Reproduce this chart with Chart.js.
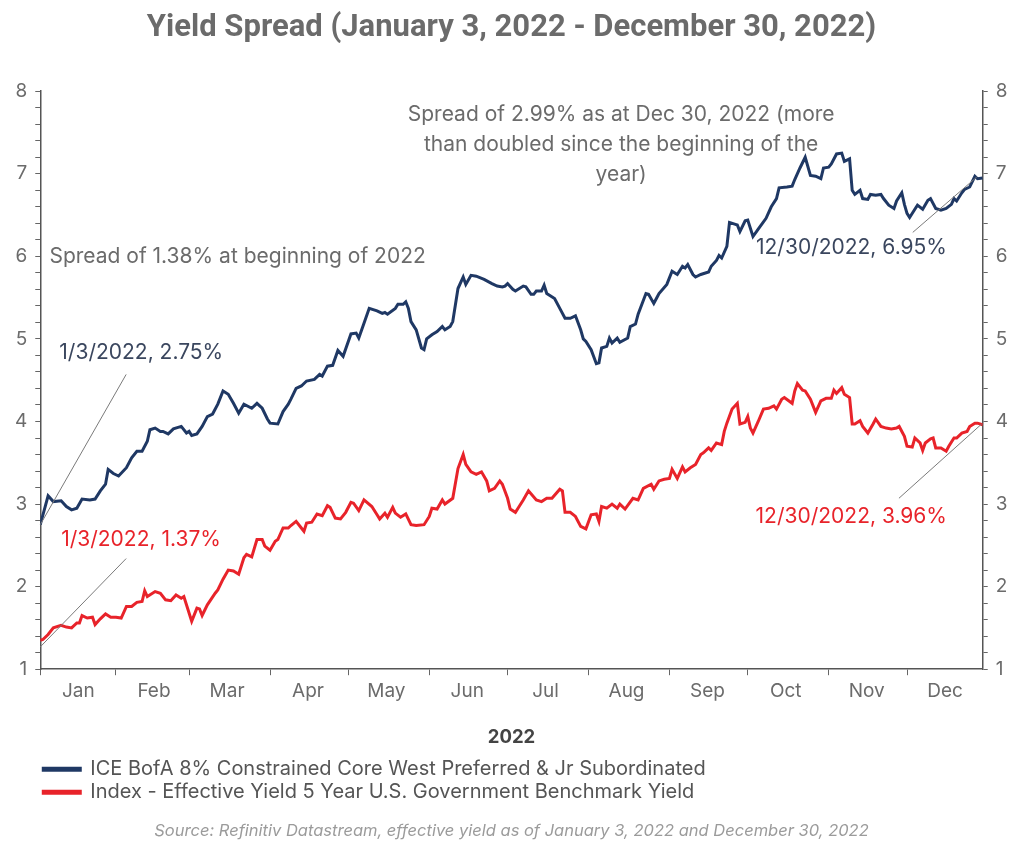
<!DOCTYPE html>
<html>
<head>
<meta charset="utf-8">
<title>Yield Spread 2022</title>
<script src="https://cdn.jsdelivr.net/npm/chart.js@4.4.1/dist/chart.umd.min.js"></script>
<style>
  html, body { margin: 0; padding: 0; background: #fff; }
  #wrap { width: 1024px; height: 854px; }
</style>
</head>
<body>
<div id="wrap"><canvas id="chart" width="1024" height="854"></canvas></div>
<script>
// x values are calendar days counted from Jan 3, 2022 (Dec 30 = 361)
const monthNames = ["Jan", "Feb", "Mar", "Apr", "May", "Jun", "Jul", "Aug", "Sep", "Oct", "Nov", "Dec"];
const monthStarts = [0, 29, 57, 88, 118, 149, 179, 210, 241, 271, 302, 332];

// ICE BofA 8% Constrained Core West Preferred & Jr Subordinated
const prefDays = [0, 3, 5, 8, 10, 12, 14, 16, 19, 21, 23, 25, 26, 28, 30, 33, 35, 37, 39, 41,
  42, 44, 46, 47, 49, 51, 54, 56, 57, 58, 60, 62, 64, 66, 68, 70, 72, 74, 76, 78,
  81, 83, 85, 87, 88, 91, 93, 95, 96, 98, 100, 102, 105, 107, 108, 110, 112, 114, 116, 119,
  121, 122, 124, 126, 129, 131, 132, 133, 136, 137, 139, 140, 141, 142, 144, 146, 147, 148, 150, 152,
  154, 155, 157, 158, 160, 162, 163, 165, 167, 170, 173, 175, 177, 178, 179, 181, 182, 185, 186, 188,
  189, 190, 192, 193, 194, 197, 199, 201, 203, 205, 207, 208, 209, 211, 213, 214, 215, 217, 218, 219,
  221, 222, 225, 226, 228, 229, 232, 233, 235, 236, 237, 240, 242, 244, 246, 247, 248, 250, 251, 253,
  256, 257, 259, 260, 261, 263, 264, 266, 267, 268, 270, 271, 273, 275, 278, 280, 282, 283, 286, 288,
  289, 291, 293, 295, 297, 299, 300, 302, 303, 305, 307, 308, 310, 311, 312, 314, 315, 317, 318, 320,
  322, 323, 325, 327, 328, 330, 331, 332, 333, 335, 336, 338, 340, 341, 343, 345, 347, 349, 350, 351,
  353, 354, 356, 358, 359, 361];
const prefYield = [2.75, 3.10, 3.03, 3.04, 2.97, 2.93, 2.95, 3.06, 3.05, 3.06, 3.16, 3.24, 3.42, 3.37, 3.34, 3.44, 3.56, 3.64, 3.64, 3.76,
  3.90, 3.92, 3.88, 3.88, 3.85, 3.91, 3.94, 3.86, 3.88, 3.83, 3.85, 3.94, 4.06, 4.09, 4.21, 4.37, 4.33, 4.22, 4.10, 4.21,
  4.16, 4.22, 4.16, 4.03, 3.98, 3.97, 4.12, 4.21, 4.27, 4.40, 4.43, 4.49, 4.51, 4.57, 4.55, 4.67, 4.68, 4.86, 4.79, 5.06,
  5.07, 5.01, 5.19, 5.37, 5.34, 5.31, 5.32, 5.30, 5.37, 5.42, 5.42, 5.45, 5.37, 5.21, 5.11, 4.89, 4.87, 5.00, 5.05, 5.09,
  5.15, 5.11, 5.15, 5.21, 5.61, 5.75, 5.66, 5.77, 5.76, 5.72, 5.67, 5.64, 5.63, 5.64, 5.67, 5.60, 5.58, 5.64, 5.63, 5.54,
  5.54, 5.58, 5.58, 5.65, 5.55, 5.49, 5.37, 5.25, 5.25, 5.28, 5.11, 5.00, 4.97, 4.87, 4.70, 4.71, 4.89, 4.91, 5.01, 4.95,
  5.01, 4.96, 5.01, 5.15, 5.18, 5.30, 5.55, 5.54, 5.43, 5.49, 5.55, 5.66, 5.82, 5.78, 5.88, 5.86, 5.90, 5.78, 5.75, 5.78,
  5.81, 5.88, 5.95, 6.01, 5.98, 6.12, 6.41, 6.39, 6.38, 6.30, 6.43, 6.44, 6.24, 6.33, 6.46, 6.60, 6.70, 6.83, 6.84, 6.85,
  6.93, 7.07, 7.20, 6.98, 6.97, 6.94, 7.07, 7.08, 7.12, 7.24, 7.25, 7.15, 7.18, 6.80, 6.75, 6.80, 6.70, 6.69, 6.75, 6.74,
  6.75, 6.70, 6.62, 6.58, 6.67, 6.77, 6.63, 6.52, 6.47, 6.57, 6.62, 6.57, 6.68, 6.70, 6.58, 6.56, 6.58, 6.63, 6.70, 6.67,
  6.77, 6.81, 6.84, 6.97, 6.94, 6.95];

// Effective Yield 5 Year U.S. Government Benchmark
const govDays = [0, 1, 3, 5, 8, 10, 12, 14, 15, 16, 18, 20, 21, 23, 25, 27, 29, 31, 33, 35,
  37, 39, 40, 41, 44, 46, 48, 50, 52, 54, 55, 58, 60, 61, 62, 64, 67, 68, 70, 72,
  74, 76, 78, 79, 81, 83, 85, 86, 88, 90, 91, 93, 95, 96, 98, 100, 101, 102, 104, 106,
  108, 110, 111, 113, 115, 117, 119, 120, 122, 124, 127, 129, 130, 132, 133, 135, 136, 138, 140, 142,
  144, 147, 149, 150, 152, 154, 155, 158, 160, 162, 163, 165, 167, 169, 171, 172, 174, 176, 177, 179,
  180, 182, 183, 185, 187, 190, 192, 194, 196, 199, 200, 201, 203, 205, 207, 209, 211, 213, 214, 215,
  217, 219, 221, 222, 224, 227, 229, 231, 234, 235, 237, 239, 241, 242, 244, 246, 247, 249, 251, 253,
  254, 256, 257, 259, 261, 262, 263, 265, 267, 268, 270, 271, 272, 273, 275, 277, 279, 281, 282, 284,
  285, 288, 289, 290, 292, 293, 295, 297, 299, 301, 303, 304, 305, 307, 308, 310, 311, 312, 314, 315,
  317, 319, 320, 322, 324, 326, 328, 329, 331, 332, 334, 335, 337, 338, 339, 341, 342, 343, 345, 347,
  348, 350, 351, 353, 355, 356, 358, 359, 361];
const govYield = [1.35, 1.36, 1.42, 1.50, 1.53, 1.51, 1.50, 1.56, 1.56, 1.65, 1.62, 1.63, 1.54, 1.61, 1.67, 1.63, 1.63, 1.62, 1.76, 1.76,
  1.81, 1.82, 1.95, 1.88, 1.94, 1.92, 1.84, 1.83, 1.90, 1.86, 1.88, 1.58, 1.74, 1.73, 1.65, 1.78, 1.92, 1.96, 2.09, 2.20,
  2.19, 2.15, 2.35, 2.39, 2.36, 2.57, 2.57, 2.49, 2.44, 2.55, 2.57, 2.71, 2.71, 2.74, 2.79, 2.71, 2.67, 2.77, 2.78, 2.88,
  2.86, 2.98, 2.96, 2.83, 2.82, 2.90, 3.02, 3.01, 2.92, 3.05, 2.97, 2.87, 2.82, 2.89, 2.84, 2.96, 2.89, 2.84, 2.88, 2.75,
  2.74, 2.75, 2.85, 2.95, 2.94, 3.05, 3.00, 3.07, 3.43, 3.60, 3.48, 3.39, 3.36, 3.39, 3.28, 3.16, 3.19, 3.28, 3.24, 3.07,
  2.94, 2.90, 2.95, 3.05, 3.16, 3.05, 3.03, 3.07, 3.07, 3.18, 3.16, 2.90, 2.90, 2.85, 2.73, 2.70, 2.87, 2.88, 2.79, 2.97,
  2.95, 3.00, 2.95, 3.00, 2.94, 3.07, 3.05, 3.19, 3.24, 3.18, 3.28, 3.30, 3.31, 3.42, 3.31, 3.45, 3.39, 3.44, 3.48, 3.60,
  3.62, 3.68, 3.65, 3.74, 3.72, 3.88, 3.98, 4.15, 4.22, 3.97, 3.99, 4.06, 3.92, 3.86, 4.00, 4.15, 4.16, 4.19, 4.15, 4.27,
  4.29, 4.22, 4.37, 4.46, 4.38, 4.37, 4.27, 4.11, 4.25, 4.28, 4.28, 4.38, 4.34, 4.41, 4.33, 4.29, 3.97, 3.97, 4.01, 3.94,
  3.86, 3.97, 4.03, 3.94, 3.92, 3.91, 3.92, 3.94, 3.82, 3.70, 3.69, 3.80, 3.74, 3.65, 3.74, 3.79, 3.80, 3.68, 3.68, 3.64,
  3.70, 3.80, 3.80, 3.86, 3.88, 3.94, 3.98, 3.98, 3.96];

const navy = "#1f3864";
const red = "#e8232a";
const grey = "#6b6b6b";
const uiFont = "Inter, 'Noto Sans', sans-serif";

// callouts, placed in data coordinates (day, yield)
const notes = [
  { lines: ["Spread of 1.38% at beginning of 2022"], color: grey, x: 3.5, y: 5.99, align: "left" },
  { lines: ["1/3/2022, 2.75%"], color: "#3a465e", x: 7.3, y: 4.83, align: "left" },
  { lines: ["1/3/2022, 1.37%"], color: red, x: 8, y: 2.57, align: "left" },
  { lines: ["Spread of 2.99% as at Dec 30, 2022 (more", "than doubled since the beginning of the", "year)"],
    color: grey, x: 222.5, y: 7.72, align: "center" },
  { lines: ["12/30/2022, 6.95%"], color: "#3a465e", x: 347.3, y: 6.11, align: "right" },
  { lines: ["12/30/2022, 3.96%"], color: red, x: 347.3, y: 2.85, align: "right" },
];
const leaders = [
  { from: [32.9, 4.57], to: [0, 2.75] },
  { from: [32.9, 2.34], to: [0, 1.27] },
  { from: [334.2, 6.29], to: [358.7, 6.96] },
  { from: [328.9, 3.07], to: [360.6, 3.97] },
];

const notesPlugin = {
  id: "notes",
  afterDatasetsDraw(chart) {
    const { ctx, scales: { x, y } } = chart;
    ctx.save();
    ctx.strokeStyle = "#7a7a7a";
    ctx.lineWidth = 1;
    leaders.forEach((l) => {
      ctx.beginPath();
      ctx.moveTo(x.getPixelForValue(l.from[0]), y.getPixelForValue(l.from[1]));
      ctx.lineTo(x.getPixelForValue(l.to[0]), y.getPixelForValue(l.to[1]));
      ctx.stroke();
    });
    ctx.font = "21px " + uiFont;
    ctx.textBaseline = "middle";
    notes.forEach((n) => {
      ctx.fillStyle = n.color;
      ctx.textAlign = n.align;
      n.lines.forEach((t, i) => {
        ctx.fillText(t, x.getPixelForValue(n.x), y.getPixelForValue(n.y) + i * 30);
      });
    });
    ctx.restore();
  },
};

const yAxis = (position) => ({
  position,
  min: 1,
  max: 8,
  ticks: {
    stepSize: 0.2,
    autoSkip: false,
    padding: 8,
    color: grey,
    font: { family: uiFont, size: 19 },
    callback: (v) => (Math.abs(v - Math.round(v)) < 1e-6 ? String(Math.round(v)) : ""),
  },
  grid: { drawOnChartArea: false, tickLength: 5, color: "#666" },
  border: { color: "#555", width: 1.5 },
});

new Chart(document.getElementById("chart"), {
  type: "line",
  data: {
    datasets: [
      {
        label: "ICE BofA 8% Constrained Core West Preferred & Jr Subordinated",
        data: prefDays.map((d, i) => ({ x: d, y: prefYield[i] })),
        borderColor: navy,
        backgroundColor: navy,
        borderWidth: 3,
        pointRadius: 0,
        yAxisID: "y",
      },
      {
        label: "Index - Effective Yield 5 Year U.S. Government Benchmark Yield",
        data: govDays.map((d, i) => ({ x: d, y: govYield[i] })),
        borderColor: red,
        backgroundColor: red,
        borderWidth: 3,
        pointRadius: 0,
        yAxisID: "y",
      },
    ],
  },
  options: {
    responsive: false,
    animation: false,
    devicePixelRatio: 1,
    layout: { padding: { top: 0, left: 7, right: 8, bottom: 7 } },
    plugins: {
      title: {
        display: true,
        text: "Yield Spread (January 3, 2022 - December 30, 2022)",
        color: "#6b6b6b",
        font: { family: "Roboto, sans-serif", size: 31, weight: "bold" },
        padding: { top: 10, bottom: 44 },
      },
      subtitle: {
        display: true,
        position: "bottom",
        text: "Source: Refinitiv Datastream, effective yield as of January 3, 2022 and December 30, 2022",
        color: "#9b9b9b",
        font: { family: uiFont, size: 16.5, style: "italic" },
        padding: { top: 9, bottom: 6 },
      },
      legend: {
        position: "bottom",
        align: "start",
        fullSize: false,
        labels: {
          boxWidth: 37,
          boxHeight: 2,
          padding: 3,
          color: "#555",
          font: { family: uiFont, size: 20 },
        },
      },
      tooltip: { enabled: false },
    },
    scales: {
      x: {
        type: "linear",
        min: 0,
        max: 361,
        afterBuildTicks: (axis) => {
          axis.ticks = monthStarts.map((v) => ({ value: v }));
        },
        ticks: {
          autoSkip: false,
          maxRotation: 0,
          labelOffset: 38,
          padding: 5,
          color: grey,
          font: { family: uiFont, size: 19 },
          callback: (v, i) => monthNames[i],
        },
        grid: { drawOnChartArea: false, tickLength: 6, color: "#666" },
        border: { color: "#555", width: 1.5 },
        title: {
          display: true,
          text: "2022",
          color: "#444",
          font: { family: uiFont, size: 18.5, weight: "bold" },
          padding: { top: 18, bottom: 8 },
        },
      },
      y: yAxis("left"),
      y2: yAxis("right"),
    },
  },
  plugins: [notesPlugin],
});
</script>
</body>
</html>
